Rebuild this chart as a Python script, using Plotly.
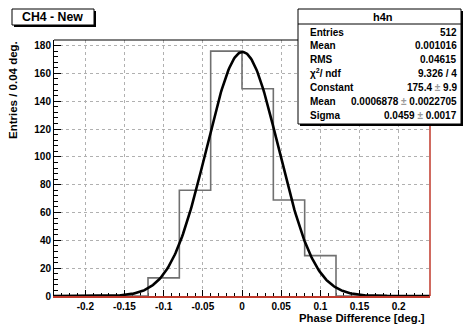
import numpy as np
import plotly.graph_objects as go

# ---- data ----
bin_centers = [-0.22, -0.18, -0.14, -0.10, -0.06, -0.02, 0.02, 0.06, 0.10, 0.14, 0.18, 0.22]
counts = [0, 0, 0, 13, 76, 176, 149, 69, 29, 0, 0, 0]
fit_constant = 175.4
fit_mean = 0.0006878
fit_sigma = 0.0459
x_ticks = [-0.2, -0.15, -0.1, -0.05, 0, 0.05, 0.1, 0.15, 0.2]
x_tick_labels = ["-0.2", "-0.15", "-0.1", "-0.05", "0", "0.05", "0.1", "0.15", "0.2"]
y_ticks = [0, 20, 40, 60, 80, 100, 120, 140, 160, 180]
stats_labels = ["Entries", "Mean", "RMS", "χ<sup>2</sup>/ ndf", "Constant", "Mean", "Sigma"]
PM = "<span style='color:#9a9a9a'>±</span>"
stats_values = ["512", "0.001016", "0.04615", "9.326 / 4", "175.4 " + PM + " 9.9",
                "0.0006878 " + PM + " 0.0022705", "0.0459 " + PM + " 0.0017"]

W, H = 463, 324
L, R, T, B = 54, 430, 40, 296
XMIN, XMAX, YMIN, YMAX = -0.24, 0.24, 0, 184


def px(x):
    return (x - L) / (R - L)


def py(y):
    return (B - y) / (B - T)


FONT = "Liberation Sans, Arial, sans-serif"
RED = "#c0392b"

xf = np.linspace(XMIN, XMAX, 400)
yf = fit_constant * np.exp(-0.5 * ((xf - fit_mean) / fit_sigma) ** 2)

fig = go.Figure()
fig.add_trace(go.Scatter(x=bin_centers, y=counts, mode="lines", line_shape="hvh",
                         line=dict(color="#707070", width=1.6), hoverinfo="skip"))
fig.add_trace(go.Scatter(x=xf, y=yf, mode="lines",
                         line=dict(color="black", width=2.6), hoverinfo="skip"))

shapes = []
annotations = []

# frame: top black, right red (overlay histogram edge)
shapes.append(dict(type="line", xref="paper", yref="paper", x0=0, x1=1, y0=1, y1=1,
                   line=dict(color="black", width=1), layer="above"))
shapes.append(dict(type="line", xref="paper", yref="paper", x0=1, x1=1, y0=0, y1=1,
                   line=dict(color=RED, width=1.5), layer="above"))

# title box
shapes.append(dict(type="rect", xref="paper", yref="paper",
                   x0=px(14), x1=px(96), y0=py(27), y1=py(11),
                   fillcolor="black", line=dict(width=0), layer="above"))
shapes.append(dict(type="rect", xref="paper", yref="paper",
                   x0=px(12), x1=px(94), y0=py(25), y1=py(9),
                   fillcolor="white", line=dict(color="black", width=1), layer="above"))
annotations.append(dict(xref="paper", yref="paper", x=px(52), y=py(17), text="<b>CH4 - New</b>",
                        showarrow=False, xanchor="center", yanchor="middle",
                        font=dict(family=FONT, size=12.3, color="black")))

# stats box
shapes.append(dict(type="rect", xref="paper", yref="paper",
                   x0=px(300), x1=px(463), y0=py(126), y1=py(11),
                   fillcolor="black", line=dict(width=0), layer="above"))
shapes.append(dict(type="rect", xref="paper", yref="paper",
                   x0=px(298), x1=px(461), y0=py(124), y1=py(9),
                   fillcolor="white", line=dict(color="black", width=1), layer="above"))
shapes.append(dict(type="line", xref="paper", yref="paper",
                   x0=px(298), x1=px(461), y0=py(24), y1=py(24),
                   line=dict(color="black", width=1), layer="above"))
annotations.append(dict(xref="paper", yref="paper", x=px(383), y=py(16.5), text="<b>h4n</b>",
                        showarrow=False, xanchor="center", yanchor="middle",
                        font=dict(family=FONT, size=11, color="black")))
row_y = [32, 45.5, 59, 73, 87, 101, 115.5]
for lab, val, ry in zip(stats_labels, stats_values, row_y):
    annotations.append(dict(xref="paper", yref="paper", x=px(308), y=py(ry), text="<b>" + lab + "</b>",
                            showarrow=False, xanchor="left", yanchor="middle",
                            font=dict(family=FONT, size=10, color="black")))
    annotations.append(dict(xref="paper", yref="paper", x=px(459), y=py(ry), text="<b>" + val + "</b>",
                            showarrow=False, xanchor="right", yanchor="middle",
                            font=dict(family=FONT, size=10, color="black")))

# axis titles
annotations.append(dict(xref="paper", yref="paper", x=px(427), y=py(317.5),
                        text="<b>Phase Difference [deg.]</b>", showarrow=False,
                        xanchor="right", yanchor="middle",
                        font=dict(family=FONT, size=11.3, color="black")))
annotations.append(dict(xref="paper", yref="paper", x=px(13), y=py(39),
                        text="<b>Entries / 0.04 deg.</b>", showarrow=False, textangle=-90,
                        xanchor="center", yanchor="top",
                        font=dict(family=FONT, size=11.5, color="black")))

fig.update_layout(
    width=W, height=H,
    margin=dict(l=L, r=W - R, t=T, b=H - B, pad=0),
    paper_bgcolor="white", plot_bgcolor="white",
    showlegend=False,
    shapes=shapes, annotations=annotations,
    xaxis=dict(range=[XMIN, XMAX], tickmode="array", tickvals=x_ticks, ticktext=x_tick_labels,
               ticks="inside", ticklen=6, tickwidth=1, tickcolor="black",
               showline=True, linecolor=RED, linewidth=1.5, mirror=False,
               layer="below traces",
               showgrid=True, gridcolor="#b0b0b0", griddash="dot", gridwidth=1,
               zeroline=False,
               minor=dict(dtick=0.01, ticks="inside", ticklen=3, tickcolor="black", showgrid=False),
               tickfont=dict(family=FONT, size=10, color="black", weight="bold")),
    yaxis=dict(range=[YMIN, YMAX], tickmode="array", tickvals=y_ticks,
               ticks="inside", ticklen=7, tickwidth=1, tickcolor="black",
               showline=True, linecolor="black", linewidth=1, mirror=False,
               showgrid=True, gridcolor="#b0b0b0", griddash="dot", gridwidth=1,
               zeroline=False,
               minor=dict(dtick=4, ticks="inside", ticklen=4, tickcolor="black", showgrid=False),
               tickfont=dict(family=FONT, size=10, color="black", weight="bold")),
)

fig.write_html("out.html", config={"displayModeBar": False},
               post_script="document.body.style.margin='0';document.body.style.overflow='hidden';")
